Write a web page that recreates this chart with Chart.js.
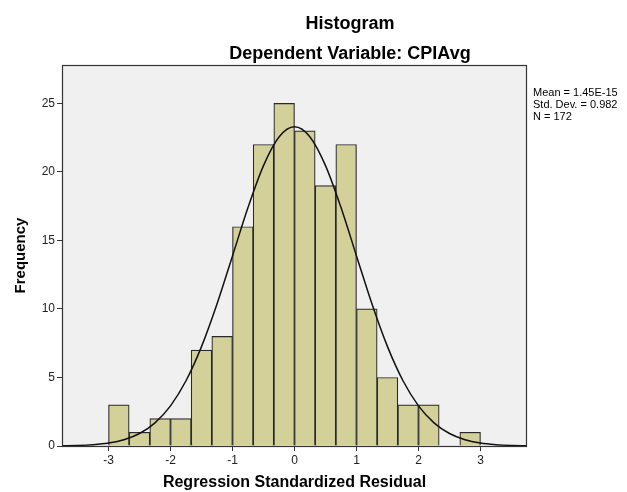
<!DOCTYPE html>
<html>
<head>
<meta charset="utf-8">
<script src="https://cdn.jsdelivr.net/npm/chart.js@4/dist/chart.umd.min.js"></script>
<style>
    body { margin: 0; background: #fff; }
    #wrap { width: 627px; height: 492px; position: relative; }
</style>
</head>
<body>
<div id="wrap"><canvas id="histogram"></canvas></div>
<script>
"use strict";

// histogram bins (width 1/3), centers and counts
const binCenters = [-17/6, -15/6, -13/6, -11/6, -9/6, -7/6, -5/6, -3/6, -1/6,
                    1/6, 3/6, 5/6, 7/6, 9/6, 11/6, 13/6, 15/6, 17/6];
const counts = [3, 1, 2, 2, 7, 8, 16, 22, 25,
                23, 19, 22, 10, 5, 3, 3, 0, 1];

// fitted normal curve
const curveX = [-3.75, -3.5, -3.25, -3, -2.75, -2.5, -2.25, -2, -1.75, -1.5, -1.25, -1, -0.75, -0.5, -0.25, 0,
                0.25, 0.5, 0.75, 1, 1.25, 1.5, 1.75, 2, 2.25, 2.5, 2.75, 3, 3.25, 3.5, 3.75];
const curveY = [0.02, 0.04, 0.10, 0.22, 0.46, 0.91, 1.69, 2.93, 4.76, 7.25, 10.36, 13.87, 17.40, 20.46, 22.55, 23.29,
                22.55, 20.46, 17.40, 13.87, 10.36, 7.25, 4.76, 2.93, 1.69, 0.91, 0.46, 0.22, 0.10, 0.04, 0.02];

const xTicks = [-3, -2, -1, 0, 1, 2, 3];
const yTicks = [0, 5, 10, 15, 20, 25];

const titleText = 'Histogram';
const subtitleText = 'Dependent Variable: CPIAvg';
const statsLines = ['Mean = 1.45E-15', 'Std. Dev. = 0.982', 'N = 172'];

const FONT = "'Liberation Sans', Arial, sans-serif";

const frame = {
    id: 'frame',
    beforeDatasetsDraw(chart) {
        const a = chart.chartArea;
        const ctx = chart.ctx;
        ctx.save();
        ctx.fillStyle = '#f0f0f0';
        ctx.fillRect(a.left, a.top, a.right - a.left, a.bottom - a.top);
        ctx.restore();
    },
    afterDraw(chart) {
        const a = chart.chartArea;
        const ctx = chart.ctx;
        ctx.save();
        ctx.strokeStyle = '#333';
        ctx.lineWidth = 1.2;
        ctx.strokeRect(a.left + 0.5, a.top + 0.5, a.right - a.left - 1, a.bottom - a.top);

        ctx.fillStyle = '#000';
        ctx.textAlign = 'center';
        ctx.textBaseline = 'alphabetic';
        ctx.font = `bold 18px ${FONT}`;
        ctx.fillText(titleText, 350, 29);
        ctx.fillText(subtitleText, 350, 59);

        ctx.textAlign = 'left';
        ctx.font = `11px ${FONT}`;
        statsLines.forEach((s, i) => ctx.fillText(s, 533, 96 + i * 12));
        ctx.restore();
    }
};

const ctx = document.getElementById('histogram').getContext('2d');
new Chart(ctx, {
    data: {
        datasets: [
            {
                type: 'line',
                data: curveX.map((x, i) => ({ x: x, y: curveY[i] })),
                borderColor: '#111',
                borderWidth: 1.5,
                pointRadius: 0,
                cubicInterpolationMode: 'monotone',
                order: 0
            },
            {
                type: 'bar',
                data: binCenters.map((x, i) => ({ x: x, y: counts[i] })),
                backgroundColor: '#d4d09a',
                borderColor: '#2a2a2a',
                borderWidth: 1.2,
                barPercentage: 1,
                categoryPercentage: 1,
                order: 1
            }
        ]
    },
    options: {
        responsive: true,
        maintainAspectRatio: false,
        animation: false,
        layout: { padding: { top: 65, right: 100, left: 0, bottom: 0 } },
        plugins: {
            legend: { display: false },
            tooltip: { enabled: false }
        },
        scales: {
            x: {
                type: 'linear',
                min: -3.75,
                max: 3.75,
                offset: false,
                afterFit: (s) => { s.height = 46; },
                afterBuildTicks: (s) => { s.ticks = xTicks.map(v => ({ value: v })); },
                grid: { offset: false, drawOnChartArea: false, drawTicks: true, tickLength: 5, tickColor: '#333' },
                border: { display: false },
                ticks: { font: { family: FONT, size: 12 }, color: '#222', padding: 2 },
                title: {
                    display: true,
                    text: 'Regression Standardized Residual',
                    font: { family: FONT, size: 16, weight: 'bold' },
                    color: '#000',
                    padding: { top: 11, bottom: 0 }
                }
            },
            y: {
                min: 0,
                max: 27.8,
                afterFit: (s) => { s.width = 62; },
                afterBuildTicks: (s) => { s.ticks = yTicks.map(v => ({ value: v })); },
                grid: { drawOnChartArea: false, drawTicks: true, tickLength: 5, tickColor: '#333' },
                border: { display: false },
                ticks: { font: { family: FONT, size: 12 }, color: '#222', padding: 2 },
                title: {
                    display: true,
                    text: 'Frequency',
                    font: { family: FONT, size: 15, weight: 'bold' },
                    color: '#000',
                    padding: { top: 12, bottom: 4 }
                }
            }
        }
    },
    plugins: [frame]
});
</script>
</body>
</html>
